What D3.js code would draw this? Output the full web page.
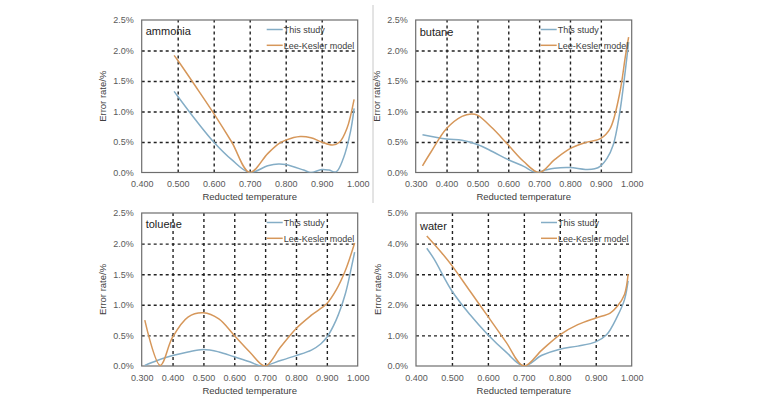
<!DOCTYPE html>
<html><head><meta charset="utf-8">
<script src="https://cdn.jsdelivr.net/npm/d3@7"></script>
<style>
html,body{margin:0;padding:0;background:#fff;}
svg{display:block;font-family:"Liberation Sans",Arial,sans-serif;}
</style></head>
<body>
<svg id="chart" width="770" height="413"></svg>
<script>
// ---------- data ----------
const ammoniaStudyX = [0.49,0.50,0.55,0.60,0.65,0.70,0.75,0.78,0.80,0.85,0.87,0.90,0.92,0.94,0.96,0.98,0.99];
const ammoniaStudyY = [1.33,1.25,0.86,0.50,0.21,0.00,0.11,0.14,0.13,0.04,0.00,0.05,0.04,0.01,0.23,0.67,1.05];
const ammoniaLKX = [0.49,0.50,0.55,0.60,0.65,0.70,0.75,0.78,0.80,0.84,0.87,0.90,0.93,0.95,0.97,0.99];
const ammoniaLKY = [1.92,1.84,1.41,0.97,0.50,0.00,0.31,0.47,0.53,0.59,0.57,0.50,0.45,0.50,0.72,1.20];

const butaneStudyX = [0.322,0.40,0.45,0.50,0.55,0.60,0.65,0.69,0.72,0.75,0.80,0.85,0.88,0.90,0.92,0.94,0.96,0.98,0.99];
const butaneStudyY = [0.62,0.55,0.53,0.46,0.34,0.21,0.10,0.00,0.04,0.07,0.08,0.05,0.06,0.11,0.23,0.45,0.94,1.70,2.14];
const butaneLKX = [0.322,0.35,0.40,0.45,0.48,0.50,0.55,0.60,0.65,0.70,0.75,0.80,0.85,0.90,0.93,0.96,0.98,0.99];
const butaneLKY = [0.11,0.34,0.72,0.92,0.96,0.94,0.72,0.45,0.18,0.00,0.21,0.39,0.49,0.56,0.72,1.27,1.92,2.22];

const tolueneStudyX = [0.31,0.35,0.40,0.45,0.50,0.55,0.60,0.65,0.69,0.75,0.80,0.85,0.88,0.90,0.93,0.96,0.98,0.99];
const tolueneStudyY = [0.01,0.09,0.17,0.23,0.27,0.23,0.15,0.07,0.00,0.09,0.17,0.26,0.36,0.47,0.75,1.18,1.62,1.86];
const tolueneLKX = [0.31,0.36,0.40,0.45,0.50,0.55,0.60,0.65,0.70,0.75,0.80,0.85,0.90,0.93,0.96,0.99];
const tolueneLKY = [0.75,0.01,0.47,0.80,0.87,0.77,0.50,0.23,0.00,0.31,0.61,0.83,1.02,1.24,1.56,2.01];

const waterStudyX = [0.43,0.45,0.50,0.55,0.60,0.65,0.70,0.75,0.80,0.85,0.90,0.93,0.96,0.98,0.99];
const waterStudyY = [3.85,3.50,2.45,1.68,1.02,0.46,0.00,0.35,0.55,0.65,0.79,1.02,1.62,2.17,2.78];
const waterLKX = [0.43,0.47,0.50,0.55,0.60,0.65,0.70,0.75,0.80,0.85,0.90,0.94,0.96,0.98,0.99];
const waterLKY = [4.25,3.72,3.28,2.45,1.62,0.79,0.00,0.52,1.02,1.35,1.57,1.73,1.95,2.34,3.00];

const seriesNames = ["This study","Lee-Kesler model"];
const xTicksA = [0.4,0.5,0.6,0.7,0.8,0.9,1.0];
const xTicksB = [0.3,0.4,0.5,0.6,0.7,0.8,0.9,1.0];
const yTicksSmall = [0,0.5,1.0,1.5,2.0,2.5];
const yTicksWater = [0,1,2,3,4,5];
const xTitle = "Reducted temperature";
const yTitle = "Error rate/%";

// ---------- layout ----------
const panels = [
  {name:"ammonia", x0:141.7, x1:357.7, top:20, bottom:172.5, xd:[0.4,1.0], xt:xTicksA, yd:[0,2.5], yt:yTicksSmall,
   s:[[ammoniaStudyX,ammoniaStudyY],[ammoniaLKX,ammoniaLKY]], nameDy:15},
  {name:"butane", x0:415.7, x1:631.7, top:20, bottom:172.5, xd:[0.3,1.0], xt:xTicksB, yd:[0,2.5], yt:yTicksSmall,
   s:[[butaneStudyX,butaneStudyY],[butaneLKX,butaneLKY]], nameDy:15.5},
  {name:"toluene", x0:141.7, x1:357.7, top:213, bottom:366, xd:[0.3,1.0], xt:xTicksB, yd:[0,2.5], yt:yTicksSmall,
   s:[[tolueneStudyX,tolueneStudyY],[tolueneLKX,tolueneLKY]], nameDy:15},
  {name:"water", x0:416, x1:631.7, top:213, bottom:366, xd:[0.4,1.0], xt:xTicksA, yd:[0,5], yt:yTicksWater,
   s:[[waterStudyX,waterStudyY],[waterLKX,waterLKY]], nameDy:17}
];
const colors = ["#84adc6","#d6975a"];
const textCol = "#595959";

const svg = d3.select("#chart");

// separator line
svg.append("line").attr("x1",373).attr("x2",373).attr("y1",5).attr("y2",203)
  .attr("stroke","#c8c8c8").attr("stroke-width",1);

panels.forEach((p,i)=>{
  const x = d3.scaleLinear().domain(p.xd).range([p.x0,p.x1]);
  const y = d3.scaleLinear().domain(p.yd).range([p.bottom,p.top]);
  const g = svg.append("g");

  // clip
  const cid = "clip"+i;
  svg.append("clipPath").attr("id",cid).append("rect")
    .attr("x",p.x0).attr("y",p.top-2).attr("width",p.x1-p.x0).attr("height",p.bottom-p.top+2);

  // gridlines
  const gx = d3.axisBottom(x).tickValues(p.xt.slice(1,-1)).tickSize(-(p.bottom-p.top)).tickFormat("");
  g.append("g").attr("transform",`translate(0,${p.bottom})`).call(gx)
    .call(s=>s.select(".domain").remove())
    .call(s=>s.selectAll("line").attr("stroke","#222").attr("stroke-width",1.4).attr("stroke-dasharray","3,3"));
  const gy = d3.axisLeft(y).tickValues(p.yt.slice(1,-1)).tickSize(-(p.x1-p.x0)).tickFormat("");
  g.append("g").attr("transform",`translate(${p.x0},0)`).call(gy)
    .call(s=>s.select(".domain").remove())
    .call(s=>s.selectAll("line").attr("stroke","#222").attr("stroke-width",1.4).attr("stroke-dasharray","3,3"));

  // border
  g.append("rect").attr("x",p.x0).attr("y",p.top).attr("width",p.x1-p.x0).attr("height",p.bottom-p.top)
    .attr("fill","none").attr("stroke","#6e6e6e").attr("stroke-width",1.2);

  // tick labels
  const ax = d3.axisBottom(x).tickValues(p.xt).tickSize(0).tickPadding(0).tickFormat(d3.format(".3f"));
  g.append("g").attr("transform",`translate(0,${p.bottom+14.5})`).call(ax)
    .call(s=>s.select(".domain").remove())
    .call(s=>s.selectAll("text").attr("fill",textCol).attr("font-size",9).attr("dy",0)
      .attr("font-family","Liberation Sans, Arial, sans-serif"));
  const ay = d3.axisLeft(y).tickValues(p.yt).tickSize(0).tickPadding(8).tickFormat(d=>d.toFixed(1)+"%");
  g.append("g").attr("transform",`translate(${p.x0},0)`).call(ay)
    .call(s=>s.select(".domain").remove())
    .call(s=>s.selectAll("text").attr("fill",textCol).attr("font-size",9)
      .attr("font-family","Liberation Sans, Arial, sans-serif"));

  // axis titles
  g.append("text").attr("x",(p.x0+p.x1)/2).attr("y",p.bottom+27.5).attr("text-anchor","middle")
    .attr("font-size",9.5).attr("fill","#404040").text(xTitle);
  g.append("text").attr("transform",`translate(${p.x0-35.5},${(p.top+p.bottom)/2}) rotate(-90)`)
    .attr("text-anchor","middle").attr("font-size",9.5).attr("fill","#404040").text(yTitle);

  // lines
  const line = d3.line().x(d=>x(d[0])).y(d=>y(d[1])).curve(d3.curveCatmullRom.alpha(0.5));
  p.s.forEach((sv,k)=>{
    const pts = sv[0].map((v,j)=>[v,sv[1][j]]);
    g.append("path").attr("d",line(pts)).attr("fill","none").attr("stroke",colors[k])
      .attr("stroke-width",1.5).attr("clip-path",`url(#${cid})`);
  });

  // panel name
  g.append("text").attr("x",p.x0+4).attr("y",p.top+p.nameDy).attr("font-size",11).attr("fill","#222").text(p.name);

  // legend
  seriesNames.forEach((n,k)=>{
    const ly = p.top+9.5+k*15.8;
    g.append("line").attr("x1",p.x0+125).attr("x2",p.x0+141).attr("y1",ly).attr("y2",ly)
      .attr("stroke",colors[k]).attr("stroke-width",1.5);
    g.append("text").attr("x",p.x0+142).attr("y",ly+3.2).attr("font-size",9).attr("fill","#404040").text(n);
  });
});
</script>
</body></html>
